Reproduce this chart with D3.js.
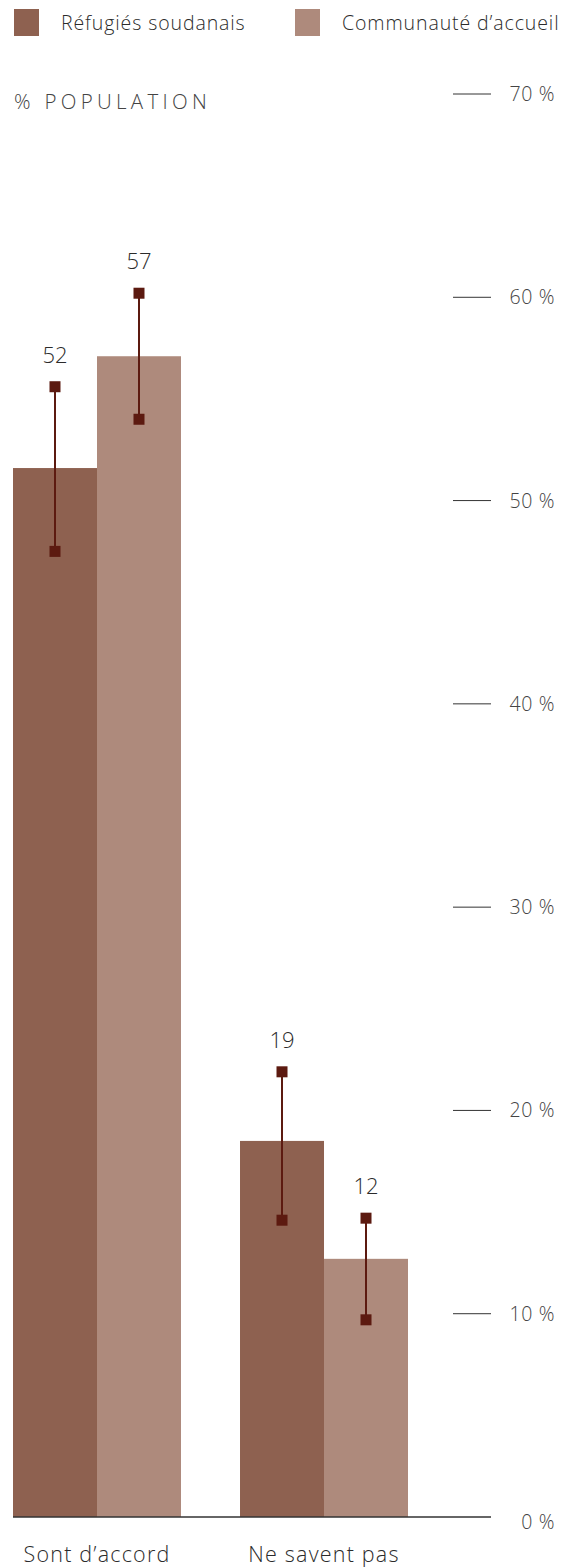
<!DOCTYPE html>
<html>
<head>
<meta charset="utf-8">
<script src="https://cdn.jsdelivr.net/npm/d3@7"></script>
<style>
  body { margin: 0; background: #fff; }
  text { font-family: 'Open Sans', Lato, sans-serif; font-weight: 300; }
</style>
</head>
<body>
<script>
// Data
const categories = ['Sont d\u2019accord', 'Ne savent pas']
const series = ['Réfugiés soudanais', 'Communauté d\u2019accueil']
const refugees = [51.6, 18.5]
const hosts = [57.1, 12.7]
const refugeesLabels = ['52', '19']
const hostsLabels = ['57', '12']
const refugeesLow = [47.5, 14.6]
const refugeesHigh = [55.6, 21.9]
const hostsLow = [54.0, 9.7]
const hostsHigh = [60.2, 14.7]
const yTicks = [0, 10, 20, 30, 40, 50, 60, 70]

const colors = ['#8e6150', '#ae8a7c']
const errColor = '#5c1a10'

var width = 569
var height = 1567

var svg = d3.select('body').append('svg')
  .attr('width', width)
  .attr('height', height)

// Scales
var y = d3.scaleLinear().domain([0, 70]).range([1517, 94])
var x0 = d3.scaleBand().domain(categories).range([13, 408]).paddingInner(0.26).paddingOuter(0)
var x1 = d3.scaleBand().domain(series).range([0, x0.bandwidth()])

// Legend
var legend = svg.append('g')
series.forEach((s, i) => {
  var lx = i === 0 ? 14 : 295
  legend.append('rect')
    .attr('x', lx).attr('y', 9)
    .attr('width', 25).attr('height', 27)
    .attr('fill', colors[i])
  legend.append('text')
    .attr('x', lx + 47).attr('y', 30)
    .attr('font-size', 19.5)
    .attr('font-weight', 400)
    .attr('letter-spacing', 0.9)
    .attr('fill', '#2b2b2b')
    .text(s)
})

// Axis title
svg.append('text')
  .attr('x', 14).attr('y', 109)
  .attr('font-size', 20.5)
  .attr('letter-spacing', 4.3)
  .attr('fill', '#444')
  .text('% POPULATION')

// Y ticks on the right
var yAxis = svg.append('g')
yTicks.filter(d => d > 0).forEach(t => {
  yAxis.append('line')
    .attr('x1', 453).attr('x2', 491)
    .attr('y1', y(t)).attr('y2', y(t))
    .attr('stroke', '#333').attr('stroke-width', 1)
})
yTicks.forEach(t => {
  yAxis.append('text')
    .attr('x', 555).attr('y', y(t) + (t === 0 ? 12 : 7))
    .attr('text-anchor', 'end')
    .attr('font-size', 19.5)
    .attr('letter-spacing', 0.6)
    .attr('fill', '#444')
    .text(t + ' %')
})

// Bars
const rows = categories.map((c, i) => [
  {cat: c, s: series[0], v: refugees[i], lab: refugeesLabels[i], lo: refugeesLow[i], hi: refugeesHigh[i], col: colors[0]},
  {cat: c, s: series[1], v: hosts[i], lab: hostsLabels[i], lo: hostsLow[i], hi: hostsHigh[i], col: colors[1]}
])

var groups = svg.selectAll('g.group')
  .data(rows).enter()
  .append('g')
  .attr('class', 'group')
  .attr('transform', d => 'translate(' + x0(d[0].cat) + ',0)')

groups.selectAll('rect')
  .data(d => d).enter()
  .append('rect')
  .attr('x', d => x1(d.s))
  .attr('width', x1.bandwidth())
  .attr('y', d => y(d.v))
  .attr('height', d => y(0) - y(d.v))
  .attr('fill', d => d.col)

// Error bars
var err = groups.selectAll('g.err')
  .data(d => d).enter()
  .append('g')
  .attr('class', 'err')
  .attr('transform', d => 'translate(' + (x1(d.s) + x1.bandwidth() / 2) + ',0)')

err.append('line')
  .attr('y1', d => y(d.hi)).attr('y2', d => y(d.lo))
  .attr('stroke', errColor).attr('stroke-width', 2)
err.selectAll('rect')
  .data(d => [d.hi, d.lo]).enter()
  .append('rect')
  .attr('x', -5.5).attr('width', 11)
  .attr('y', d => y(d) - 5.5).attr('height', 11)
  .attr('fill', errColor)

err.append('text')
  .attr('y', d => y(d.hi) - 24)
  .attr('text-anchor', 'middle')
  .attr('font-size', 22)
  .attr('fill', '#2b2b2b')
  .text(d => d.lab)

// Baseline
svg.append('line')
  .attr('x1', 13).attr('x2', 491)
  .attr('y1', y(0)).attr('y2', y(0))
  .attr('stroke', '#333').attr('stroke-width', 1.5)

// Category labels
svg.selectAll('text.cat')
  .data(categories).enter()
  .append('text')
  .attr('class', 'cat')
  .attr('x', d => x0(d) + x0.bandwidth() / 2)
  .attr('y', 1562)
  .attr('text-anchor', 'middle')
  .attr('font-size', 21.5)
  .attr('font-weight', 400)
  .attr('letter-spacing', 1.2)
  .attr('fill', '#2b2b2b')
  .text(d => d)
</script>
</body>
</html>
